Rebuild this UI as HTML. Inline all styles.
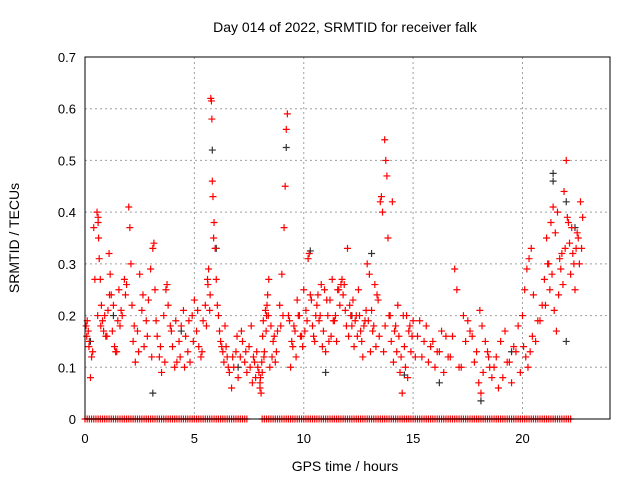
<!DOCTYPE html>
<html><head><meta charset="utf-8"><style>
body{margin:0;background:#fff}
svg{display:block;font-family:"Liberation Sans",sans-serif}
</style></head><body>
<svg id="chart" width="640" height="480">
<text x="345" y="32" text-anchor="middle" font-size="14">Day 014 of 2022, SRMTID for receiver falk</text>
<text x="345" y="471" text-anchor="middle" font-size="14">GPS time / hours</text>
<text transform="translate(19,238) rotate(-90)" text-anchor="middle" font-size="14">SRMTID / TECUs</text>
<g id="grid"></g><g id="ticks"></g><g id="marks"></g>
<rect x="85" y="57" width="525" height="362" fill="none" stroke="#000" stroke-width="1"/>
</svg>
<script>
const xTicks=[0,5,10,15,20];
const yTicks=[0,0.1,0.2,0.3,0.4,0.5,0.6,0.7];
const yTickLabels=["0","0.1","0.2","0.3","0.4","0.5","0.6","0.7"];
const zeroRanges=[[0,7.4],[8.1,22.2]];
const zeroStep=0.1;
const redX=[0.05,0.1,0.15,0.2,0.25,0.3,0.35,0.45,0.55,0.6,0.6,0.62,0.65,0.7,0.75,0.8,0.85,0.9,1.0,1.05,1.1,1.15,1.2,1.3,1.35,1.4,1.5,1.55,1.6,1.7,1.8,1.9,2.0,2.05,2.1,2.15,2.2,2.3,2.4,2.5,2.6,2.7,2.8,2.9,3.0,3.1,3.15,3.2,3.3,3.4,3.5,3.6,3.7,3.8,3.9,4.0,4.1,4.2,4.3,4.4,4.5,4.6,4.7,4.8,4.9,5.0,5.1,5.2,5.3,5.4,5.5,5.6,5.65,5.7,5.75,5.78,5.8,5.82,5.85,5.9,5.95,6.0,6.1,6.2,6.3,6.4,6.5,6.6,6.7,6.8,6.9,7.0,7.1,7.2,7.3,7.4,7.5,7.6,7.7,7.8,7.9,8.0,8.05,8.1,8.2,8.3,8.35,8.4,8.5,8.6,8.7,8.8,8.9,9.0,9.1,9.15,9.2,9.25,9.3,9.4,9.5,9.6,9.7,9.8,9.9,10.0,10.1,10.2,10.25,10.3,10.4,10.5,10.6,10.7,10.8,10.9,11.0,11.1,11.2,11.3,11.4,11.5,11.6,11.7,11.8,11.9,12.0,12.1,12.2,12.3,12.4,12.5,12.6,12.7,12.8,12.9,13.0,13.1,13.2,13.3,13.4,13.5,13.55,13.6,13.7,13.75,13.8,13.85,13.9,14.0,14.1,14.2,14.3,14.4,14.5,14.6,14.7,14.8,14.9,15.0,15.2,15.4,15.6,15.8,16.0,16.2,16.4,16.6,16.8,16.9,17.0,17.1,17.3,17.5,17.7,17.8,18.0,18.1,18.2,18.4,18.5,18.6,18.8,19.0,19.2,19.4,19.6,19.8,20.0,20.1,20.2,20.3,20.4,20.5,20.7,20.9,21.0,21.1,21.2,21.3,21.4,21.5,21.6,21.7,21.8,21.9,22.0,22.1,22.2,22.3,22.4,22.5,22.6,22.7,
0.08,0.18,0.4,0.58,0.72,0.95,1.12,1.25,1.45,1.65,1.85,2.25,2.45,2.65,2.85,3.05,3.25,3.45,3.65,3.75,3.95,4.15,4.35,4.55,4.75,4.95,5.15,5.35,5.55,5.62,5.72,5.88,6.05,6.15,6.25,6.35,6.45,6.55,6.75,6.95,7.15,7.35,7.55,7.65,7.75,7.85,7.95,8.0,8.02,8.08,8.12,8.15,8.18,8.25,8.28,8.32,8.38,8.45,8.55,8.65,8.75,8.95,9.05,9.35,9.45,9.55,9.65,9.75,9.85,9.95,10.05,10.15,10.35,10.45,10.55,10.65,10.75,10.85,10.95,11.05,11.15,11.25,11.35,11.45,11.55,11.65,11.75,11.85,11.95,12.05,12.15,12.25,12.35,12.45,12.55,12.65,12.75,12.85,12.95,13.05,13.15,13.25,13.35,13.45,13.65,13.72,13.95,14.05,14.15,14.25,14.35,14.45,14.55,14.65,14.75,14.85,14.95,15.1,15.3,15.5,15.7,15.9,16.1,16.3,16.5,16.7,17.2,17.4,17.6,17.9,18.05,18.15,18.3,18.45,18.7,18.9,19.1,19.3,19.5,19.7,19.9,20.05,20.15,20.25,20.35,20.45,20.6,20.8,21.05,21.15,21.25,21.35,21.45,21.55,21.65,21.75,21.85,21.95,22.05,22.15,22.25,22.35,22.45,22.55,22.65,22.75];
const redY=[0.18,0.19,0.17,0.15,0.08,0.12,0.13,0.27,0.4,0.39,0.38,0.35,0.31,0.27,0.22,0.19,0.17,0.2,0.16,0.21,0.32,0.28,0.24,0.22,0.14,0.13,0.19,0.25,0.18,0.2,0.27,0.26,0.41,0.37,0.3,0.22,0.15,0.11,0.17,0.28,0.21,0.14,0.19,0.23,0.29,0.33,0.34,0.25,0.16,0.12,0.09,0.2,0.25,0.22,0.18,0.14,0.1,0.11,0.15,0.18,0.21,0.16,0.13,0.11,0.2,0.23,0.17,0.14,0.12,0.19,0.22,0.27,0.29,0.21,0.62,0.615,0.58,0.46,0.43,0.38,0.33,0.27,0.2,0.15,0.13,0.18,0.12,0.09,0.06,0.1,0.13,0.08,0.12,0.15,0.11,0.09,0.14,0.18,0.12,0.08,0.1,0.07,0.05,0.09,0.13,0.2,0.24,0.27,0.18,0.15,0.11,0.17,0.22,0.28,0.37,0.45,0.56,0.59,0.2,0.1,0.14,0.17,0.23,0.2,0.16,0.25,0.21,0.31,0.32,0.24,0.18,0.15,0.22,0.19,0.26,0.17,0.13,0.2,0.23,0.27,0.19,0.15,0.25,0.26,0.24,0.21,0.33,0.22,0.18,0.14,0.2,0.25,0.17,0.12,0.19,0.3,0.28,0.21,0.18,0.14,0.23,0.42,0.43,0.4,0.54,0.5,0.47,0.35,0.2,0.15,0.11,0.18,0.22,0.09,0.05,0.14,0.2,0.17,0.13,0.19,0.16,0.12,0.18,0.14,0.1,0.13,0.09,0.12,0.16,0.29,0.25,0.1,0.2,0.19,0.16,0.11,0.07,0.05,0.09,0.13,0.1,0.08,0.12,0.15,0.17,0.11,0.14,0.18,0.2,0.25,0.29,0.31,0.33,0.24,0.19,0.22,0.27,0.35,0.3,0.38,0.41,0.36,0.4,0.31,0.32,0.44,0.5,0.38,0.28,0.32,0.25,0.36,0.3,0.33,
0.16,0.14,0.37,0.2,0.18,0.16,0.24,0.17,0.13,0.21,0.24,0.18,0.13,0.24,0.16,0.12,0.19,0.14,0.11,0.26,0.17,0.19,0.12,0.1,0.19,0.15,0.21,0.13,0.18,0.26,0.24,0.35,0.22,0.17,0.14,0.11,0.14,0.1,0.12,0.16,0.17,0.13,0.1,0.07,0.11,0.13,0.09,0.06,0.08,0.11,0.16,0.19,0.12,0.21,0.17,0.22,0.2,0.1,0.12,0.16,0.13,0.18,0.2,0.19,0.15,0.18,0.12,0.2,0.16,0.14,0.17,0.19,0.23,0.16,0.2,0.24,0.2,0.14,0.25,0.23,0.15,0.16,0.19,0.2,0.25,0.22,0.27,0.26,0.18,0.16,0.2,0.23,0.19,0.16,0.2,0.15,0.18,0.21,0.19,0.13,0.17,0.26,0.24,0.16,0.13,0.18,0.2,0.42,0.17,0.13,0.16,0.12,0.2,0.1,0.08,0.18,0.16,0.12,0.19,0.15,0.11,0.15,0.13,0.17,0.16,0.12,0.1,0.15,0.17,0.13,0.21,0.18,0.15,0.12,0.1,0.06,0.08,0.11,0.07,0.13,0.09,0.14,0.12,0.1,0.13,0.16,0.15,0.19,0.22,0.3,0.25,0.28,0.21,0.17,0.24,0.29,0.26,0.33,0.39,0.34,0.37,0.3,0.33,0.35,0.42,0.39,0.4,0.29,0.33,0.28,0.3,0.33,0.3];
const blackX=[0.25,1.3,3.1,4.4,5.82,6.0,7.0,9.2,10.3,11.0,12.2,13.1,14.6,16.2,18.1,19.5,21.4,21.4,22.0,22.0,22.4];
const blackY=[0.15,0.2,0.05,0.17,0.52,0.33,0.1,0.525,0.325,0.09,0.2,0.32,0.085,0.07,0.035,0.13,0.475,0.46,0.42,0.15,0.37];
const X0=85,XW=525,Y0=419,YH=362,XMAX=24,YMAX=0.7;
const sx=v=>X0+v/XMAX*XW, sy=v=>Y0-v/YMAX*YH;
const NS="http://www.w3.org/2000/svg";
const grid=document.getElementById('grid'),ticks=document.getElementById('ticks'),marks=document.getElementById('marks');
function mk(tag,attrs,parent){const e=document.createElementNS(NS,tag);for(const k in attrs)e.setAttribute(k,attrs[k]);parent.appendChild(e);return e;}
xTicks.forEach(t=>{
  const x=sx(t);
  if(t>0){const g=mk('line',{x1:x,x2:x,y1:57,y2:419,stroke:'#a0a0a0','stroke-dasharray':'2,3'},grid);
  
  }
  const l=mk('text',{x:x,y:443,'text-anchor':'middle','font-size':'13'},ticks);l.textContent=t;
  
  
});
yTicks.forEach((t,i)=>{
  const y=sy(t);
  if(t>0&&t<0.7){const g=mk('line',{x1:85,x2:610,y1:y,y2:y,stroke:'#a0a0a0','stroke-dasharray':'2,3'},grid);
  
  }
  const l=mk('text',{x:76,y:y+5,'text-anchor':'end','font-size':'13'},ticks);l.textContent=yTickLabels[i];
  
  
});
function plus(x,y,color,name){
  const p=mk('path',{d:`M${x-3.5},${y}h7M${x},${y-3.5}v7`,stroke:color,'stroke-width':'1.2','fill':'none'},marks);
  
  
}
blackX.forEach((v,i)=>plus(sx(v),sy(blackY[i]),'#333','black-point'));
redX.forEach((v,i)=>plus(sx(v),sy(redY[i]),'#ff0000','red-point'));
zeroRanges.forEach(r=>{for(let t=r[0];t<=r[1]+1e-9;t+=zeroStep)plus(sx(t),sy(0),'#ff0000','zero-point');});
</script>
</body></html>
